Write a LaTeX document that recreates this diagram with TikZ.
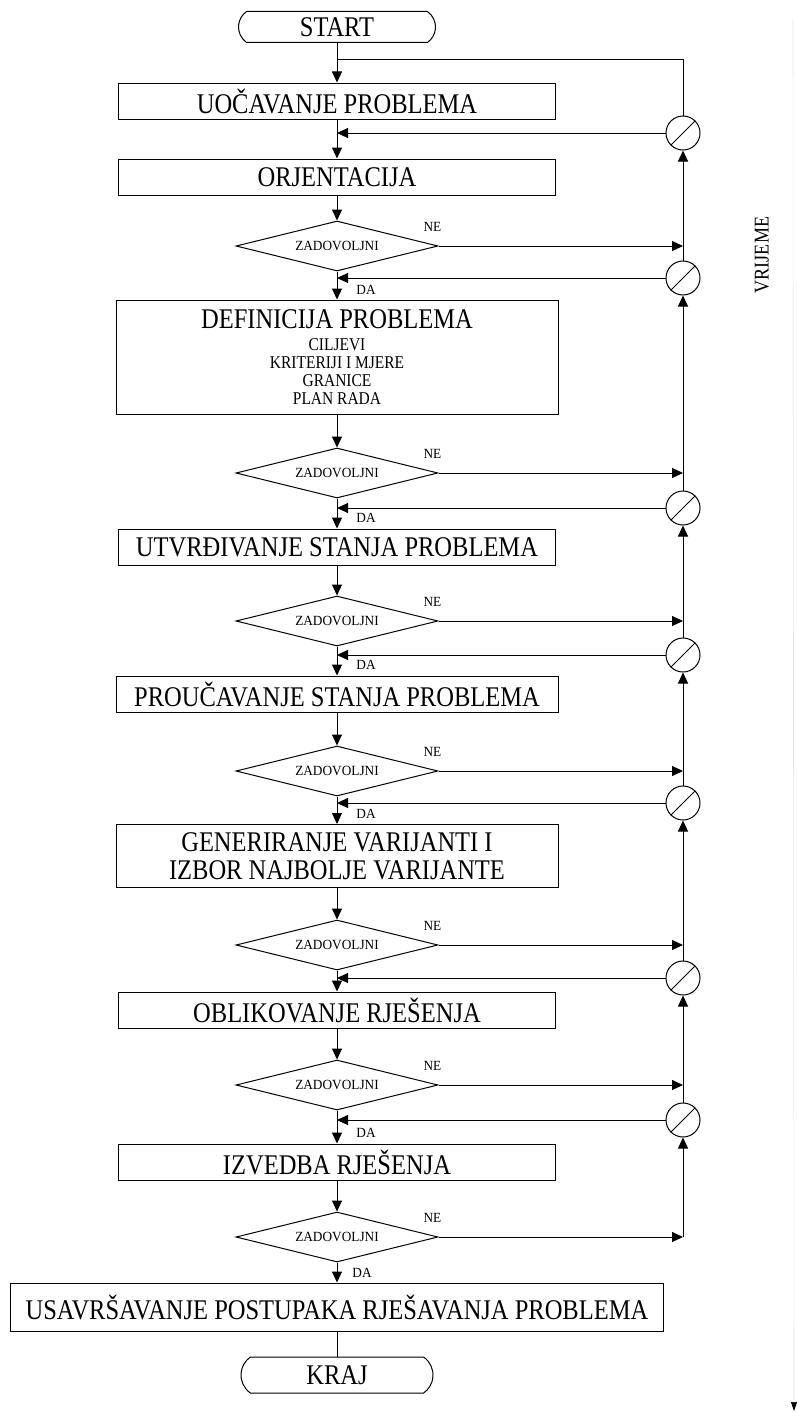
\documentclass[tikz,border=0pt]{standalone}
\usepackage{fontspec}
\setmainfont{Liberation Serif}[FakeStretch=0.86]
\newfontfamily\labf{Liberation Serif}[FakeStretch=0.95]
\usetikzlibrary{shapes.geometric,shapes.misc,arrows.meta,calc}
\begin{document}
\begin{tikzpicture}[x=1pt,y=1pt,line width=1pt,
  proc/.style={draw, rectangle, minimum width=437pt, minimum height=36pt, inner sep=0pt, align=center, font=\fontsize{28.5}{30}\selectfont},
  dec/.style={draw, diamond, shape aspect=4.04, minimum width=202pt, minimum height=50pt, inner sep=0pt, font=\labf\fontsize{14}{15}\selectfont},
  term/.style={draw, rounded rectangle, rounded rectangle arc length=110, minimum width=197pt, minimum height=31pt, inner sep=0pt, font=\fontsize{28.5}{30}\selectfont},
  gate/.style={draw, circle, minimum size=34pt, inner sep=0pt},
  flow/.style={-{Triangle[length=11pt,width=10pt]}},
  lbl/.style={font=\labf\fontsize{14}{15}\selectfont, inner sep=0pt}
]
\useasboundingbox (0,0) rectangle (797,-1413);

% main column
\node[term] (start) at (337,-27) {START};
\node[proc] (b1) at (337,-101) {UOČAVANJE PROBLEMA};
\node[proc] (b2) at (337,-177) {ORJENTACIJA};
\node[dec] (d1) at (337,-246) {ZADOVOLJNI};
\node[proc, minimum width=442pt, minimum height=114pt, font=\fontsize{18}{18}\selectfont] (b3) at (337,-357) {{\fontsize{28.5}{30}\selectfont DEFINICIJA PROBLEMA}\\[4pt]
  CILJEVI\\ KRITERIJI I MJERE\\ GRANICE\\ PLAN RADA};
\node[dec] (d2) at (337,-473) {ZADOVOLJNI};
\node[proc] (b4) at (337,-547) {UTVRĐIVANJE STANJA PROBLEMA};
\node[dec] (d3) at (337,-621) {ZADOVOLJNI};
\node[proc, minimum width=442pt] (b5) at (337,-694) {PROUČAVANJE STANJA PROBLEMA};
\node[dec] (d4) at (337,-771) {ZADOVOLJNI};
\node[proc, minimum width=442pt, minimum height=63pt] (b6) at (337,-856) {GENERIRANJE VARIJANTI I\\[-2pt]IZBOR NAJBOLJE VARIJANTE};
\node[dec] (d5) at (337,-945) {ZADOVOLJNI};
\node[proc] (b7) at (337,-1010) {OBLIKOVANJE RJEŠENJA};
\node[dec] (d6) at (337,-1085) {ZADOVOLJNI};
\node[proc] (b8) at (337,-1162) {IZVEDBA RJEŠENJA};
\node[dec] (d7) at (337,-1237) {ZADOVOLJNI};
\node[proc, minimum width=653pt, minimum height=48pt] (b9) at (337,-1307) {USAVRŠAVANJE POSTUPAKA RJEŠAVANJA PROBLEMA};
\node[term, minimum width=192pt, minimum height=36pt] (kraj) at (337,-1375) {KRAJ};

% gates on the right
\node[gate] (c1) at (683,-133) {};
\node[gate] (c2) at (683,-278) {};
\node[gate] (c3) at (683,-508) {};
\node[gate] (c4) at (683,-655) {};
\node[gate] (c5) at (683,-803) {};
\node[gate] (c6) at (683,-978) {};
\node[gate] (c7) at (683,-1120) {};
\foreach \c in {c1,c2,c3,c4,c5,c6,c7} \draw (\c.225) -- (\c.45);

% coordinates
\coordinate (top) at (337,-60);
\coordinate (topr) at (683,-60);
\coordinate (e7) at (683,-1237);

% main flow
\draw[flow] (start.south) -- (b1.north);
\draw[flow] (b1.south) -- (b2.north);
\draw[flow] (b2.south) -- (d1.north);
\draw[flow] (d1.south) -- (b3.north);
\draw[flow] (b3.south) -- (d2.north);
\draw[flow] (d2.south) -- (b4.north);
\draw[flow] (b4.south) -- (d3.north);
\draw[flow] (d3.south) -- (b5.north);
\draw[flow] (b5.south) -- (d4.north);
\draw[flow] (d4.south) -- (b6.north);
\draw[flow] (b6.south) -- (d5.north);
\draw[flow] (d5.south) -- (b7.north);
\draw[flow] (b7.south) -- (d6.north);
\draw[flow] (d6.south) -- (b8.north);
\draw[flow] (b8.south) -- (d7.north);
\draw[flow] (d7.south) -- (b9.north);
\draw (b9.south) -- (kraj.north);

% top loop
\draw (c1.north) -- (topr) -- (top);

% returns from gates
\foreach \c in {c1,c2,c3,c4,c5,c6,c7}
  \draw[flow] (\c.west) -- (\c.west -| start.south);

% NE branches
\draw[flow] (d1.east) -- (d1.east -| c1.center);
\draw[flow] (d2.east) -- (d2.east -| c1.center);
\draw[flow] (d3.east) -- (d3.east -| c1.center);
\draw[flow] (d4.east) -- (d4.east -| c1.center);
\draw[flow] (d5.east) -- (d5.east -| c1.center);
\draw[flow] (d6.east) -- (d6.east -| c1.center);
\draw[flow] (d7.east) -- (e7);

% right vertical line
\draw[flow] (c2.north) -- (c1.south);
\draw[flow] (c3.north) -- (c2.south);
\draw[flow] (c4.north) -- (c3.south);
\draw[flow] (c5.north) -- (c4.south);
\draw[flow] (c6.north) -- (c5.south);
\draw[flow] (c7.north) -- (c6.south);
\draw[flow] (e7) -- (c7.south);

% labels
\foreach \d in {d1,d2,d3,d4,d5,d6,d7}
  \node[lbl] at ($(\d.east)+(-6,19)$) {NE};
\node[lbl] at (366,-290) {DA};
\node[lbl] at (366,-518) {DA};
\node[lbl] at (366,-665) {DA};
\node[lbl] at (366,-814) {DA};
\node[lbl] at (366,-1133) {DA};
\node[lbl] at (362,-1273) {DA};

% time axis
\node[rotate=90, font=\fontsize{21}{23}\selectfont, inner sep=0pt] (vr) at (762,-255) {VRIJEME};
\coordinate (t0) at (793,-20);
\coordinate (t1) at (794,-1411);
\draw[black!10, line width=0.6pt, -{Triangle[length=9pt,width=6pt,color=black]}] (t0) -- (t1);
\end{tikzpicture}
\end{document}
